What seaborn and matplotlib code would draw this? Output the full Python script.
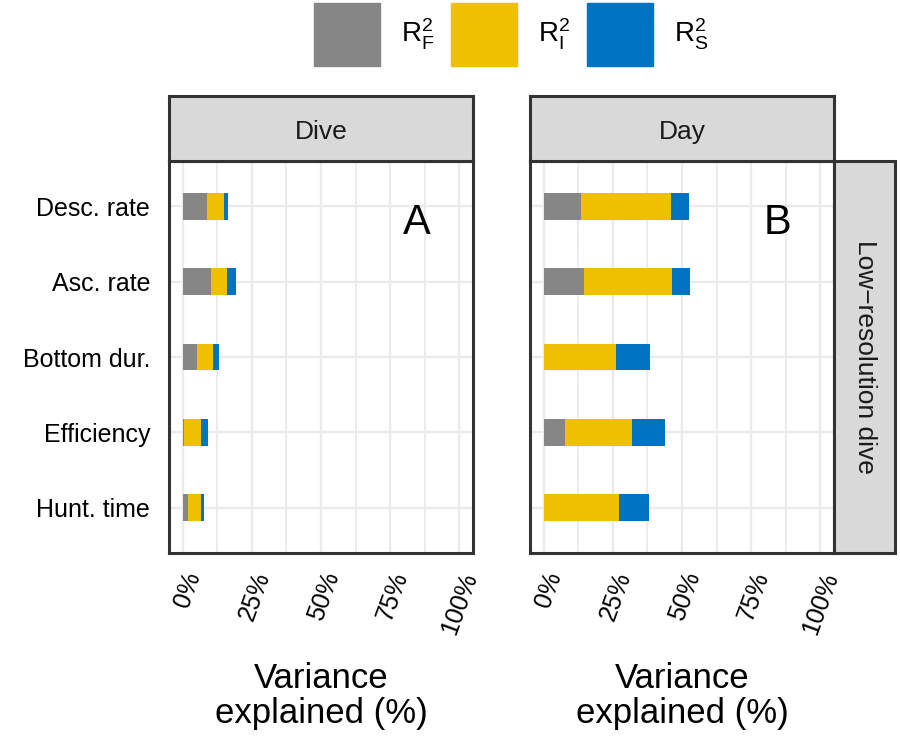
import matplotlib
matplotlib.use('Agg')
import matplotlib.pyplot as plt
import matplotlib.patches as mpatches
import numpy as np
import pandas as pd
import seaborn as sns

# categories
measures = ['Desc. rate', 'Asc. rate', 'Bottom dur.', 'Efficiency', 'Hunt. time']
panels = ['Dive', 'Day']
panel_letters = ['A', 'B']
row_strip = 'Low\u2212resolution dive'

# variance components (%)
r2_fixed_dive = [8.9, 10.1, 5.1, 0.3, 1.7]
r2_indiv_dive = [6.0, 5.9, 5.8, 6.2, 4.9]
r2_seq_dive = [1.6, 3.1, 2.2, 2.6, 1.2]
r2_fixed_day = [13.6, 14.7, 0.0, 7.8, 0.0]
r2_indiv_day = [32.5, 31.8, 26.2, 24.2, 27.3]
r2_seq_day = [6.4, 6.4, 12.2, 11.7, 10.6]

x_ticks = [0, 25, 50, 75, 100]
x_ticklabels = ['0%', '25%', '50%', '75%', '100%']

col_f = '#868686'
col_i = '#EFC000'
col_s = '#0073C2'
dark = '#333333'

sns.set_style('white')
plt.rcParams['font.family'] = ['Liberation Sans', 'DejaVu Sans']
plt.rcParams['mathtext.fontset'] = 'custom'
plt.rcParams['mathtext.rm'] = 'Liberation Sans'
plt.rcParams['text.color'] = 'black'
plt.rcParams['axes.labelcolor'] = 'black'

df = pd.DataFrame({
    'measure': measures * 2,
    'panel': ['Dive'] * 5 + ['Day'] * 5,
    'F': r2_fixed_dive + r2_fixed_day,
    'I': r2_indiv_dive + r2_indiv_day,
    'S': r2_seq_dive + r2_seq_day,
})
df['FI'] = df['F'] + df['I']
df['FIS'] = df['FI'] + df['S']

fig = plt.figure(figsize=(9, 7.39), dpi=100)
W, H = 900, 739


def px_axes(x0, y0, x1, y1):
    # pixel box (top-left origin) -> figure axes
    return fig.add_axes([x0 / W, 1 - y1 / H, (x1 - x0) / W, (y1 - y0) / H])


lefts = [169, 530]
for k, panel in enumerate(panels):
    x0 = lefts[k]
    ax = px_axes(x0, 161, x0 + 304, 553)
    sub = df[df['panel'] == panel]
    # stacked bars: draw cumulative totals back to front
    sns.barplot(data=sub, y='measure', x='FIS', color=col_s, orient='h',
                width=0.355, errorbar=None, linewidth=0, saturation=1, ax=ax)
    sns.barplot(data=sub, y='measure', x='FI', color=col_i, orient='h',
                width=0.355, errorbar=None, linewidth=0, saturation=1, ax=ax)
    sns.barplot(data=sub, y='measure', x='F', color=col_f, orient='h',
                width=0.355, errorbar=None, linewidth=0, saturation=1, ax=ax)
    ax.set_xlim(-5, 105)
    ax.set_ylim(4.6, -0.6)
    ax.set_xticks(x_ticks)
    ax.set_xticks([12.5, 37.5, 62.5, 87.5], minor=True)
    ax.set_xticklabels(x_ticklabels)
    ax.set_axisbelow(True)
    ax.grid(True, which='major', axis='both', color='#EBEBEB', lw=1.7)
    ax.grid(True, which='minor', axis='x', color='#EBEBEB', lw=1.3)
    for sp in ax.spines.values():
        sp.set_color(dark)
        sp.set_linewidth(2.2)
        sp.set_visible(True)
    ax.tick_params(axis='both', which='major', length=6.5, width=2.2, color=dark,
                   labelsize=18, labelcolor='black', pad=5)
    ax.tick_params(axis='x', which='minor', length=0)
    ax.tick_params(axis='y', pad=7)
    plt.setp(ax.get_xticklabels(), rotation=70, ha='right', va='top',
             rotation_mode='anchor')
    if k == 1:
        ax.set_yticklabels([])
    ax.set_ylabel('')
    ax.set_xlabel('Variance\nexplained (%)', fontsize=25, labelpad=18,
                  linespacing=1.08)
    ax.text(84.5, 0.22, panel_letters[k], fontsize=30, ha='center', va='center')

    # facet strip on top
    st = px_axes(x0, 96, x0 + 304, 161)
    st.set_facecolor('#D9D9D9')
    st.set_xticks([])
    st.set_yticks([])
    for sp in st.spines.values():
        sp.set_color(dark)
        sp.set_linewidth(2.2)
    st.text(0.5, 0.45, panel, fontsize=19, color='#1A1A1A', ha='center',
            va='center', transform=st.transAxes)

# row strip on the right
rs = px_axes(834, 161, 895, 553)
rs.set_facecolor('#D9D9D9')
rs.set_xticks([])
rs.set_yticks([])
for sp in rs.spines.values():
    sp.set_color(dark)
    sp.set_linewidth(2.2)
rs.text(0.5, 0.5, row_strip, fontsize=19, color='#1A1A1A', ha='center',
        va='center', rotation=-90, transform=rs.transAxes)

handles = [mpatches.Patch(color=c) for c in (col_f, col_i, col_s)]
labels = [r'$\mathregular{R^2_F}$', r'$\mathregular{R^2_I}$', r'$\mathregular{R^2_S}$']
fig.legend(handles, labels, ncol=3, loc='upper center', bbox_to_anchor=(0.568, 1.0),
           frameon=False, fontsize=20, handlelength=2.375, handleheight=3.1,
           handletextpad=0.75, columnspacing=0.6, borderaxespad=0.1, borderpad=0.0)

fig.savefig('out.png', dpi=100)
